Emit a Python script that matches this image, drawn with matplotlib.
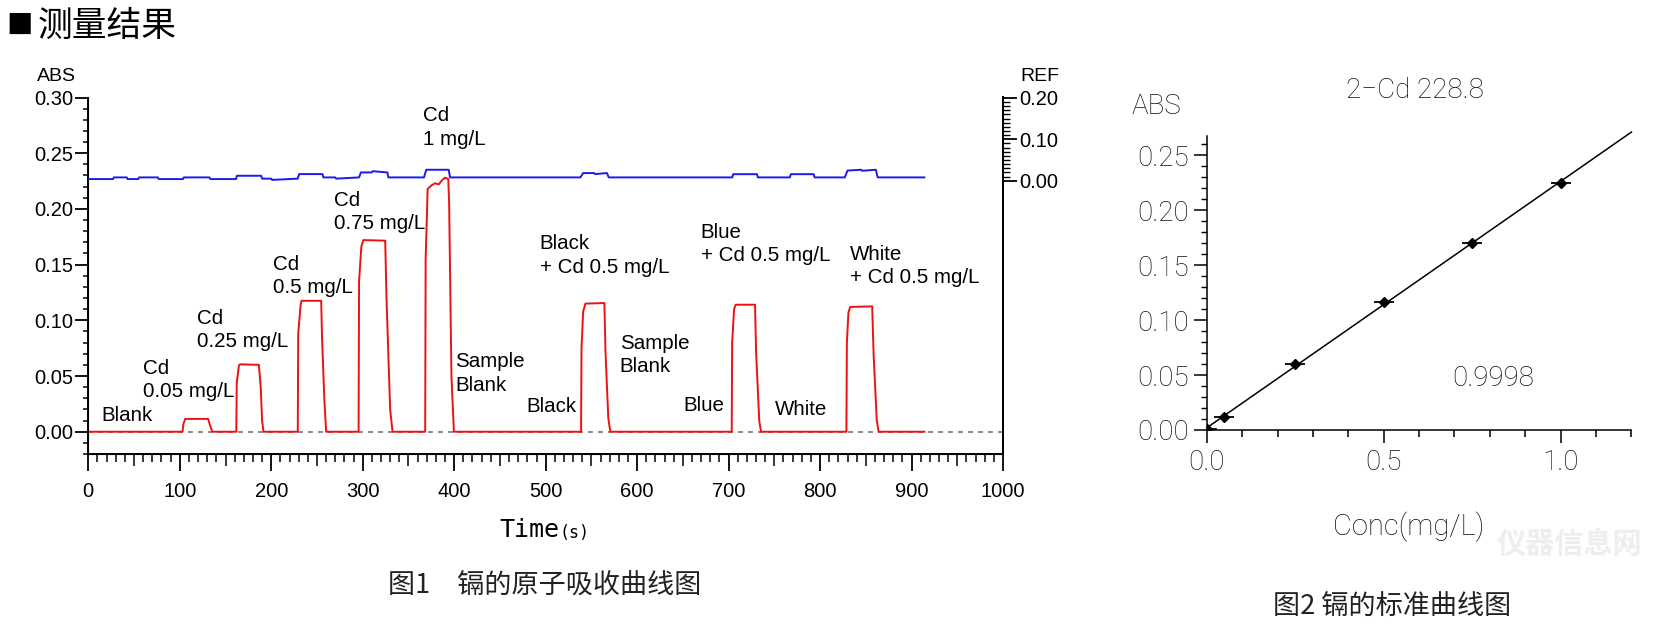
import numpy as np
import matplotlib
matplotlib.use("Agg")
import matplotlib.pyplot as plt

plt.rcParams['font.family'] = ['Liberation Sans', 'Noto Sans CJK SC', 'DejaVu Sans']

# ---- 图1 data: red = ABS (left axis), blue = REF (right axis)
red_t = [0, 103, 104, 106, 131, 133, 135.5,
         161.8, 162.3, 164.7, 166, 186.5, 188.5, 190, 191.5,
         229, 229.5, 232, 233, 254.6, 255.5, 258, 260,
         295.5, 296, 298.5, 300.6, 324.6, 326, 330, 332.6,
         368.3, 368.8, 371, 375, 379, 383, 387, 390, 393.5, 394.5, 397, 399.7,
         538.7, 539.2, 541, 543.5, 564.2, 565.5, 568.5, 570.7,
         703.4, 703.9, 706, 707.8, 728.9, 730, 733.5, 735.4,
         828.8, 829.3, 831, 833, 857, 858.5, 862, 864, 914]
red_abs = [0, 0, 0.007, 0.0115, 0.0115, 0.006, 0,
           0, 0.044, 0.0595, 0.0605, 0.060, 0.040, 0.010, 0,
           0, 0.088, 0.113, 0.1175, 0.1175, 0.085, 0.030, 0,
           0, 0.135, 0.166, 0.172, 0.1715, 0.120, 0.020, 0,
           0, 0.155, 0.218, 0.221, 0.223, 0.222, 0.226, 0.228, 0.227, 0.205, 0.050, 0,
           0, 0.075, 0.108, 0.115, 0.1155, 0.070, 0.012, 0,
           0, 0.080, 0.110, 0.114, 0.114, 0.073, 0.010, 0,
           0, 0.080, 0.107, 0.112, 0.1125, 0.070, 0.010, 0, 0]

blue_t = [0, 27, 28, 42, 43, 54.5, 55.5, 76, 77, 103.5, 104.5, 132.5, 133.5,
          161.5, 162.5, 189, 190, 200, 201, 229, 230.5, 256, 257,
          270, 271, 296, 298, 310, 311, 327, 328,
          367, 368, 369.5, 394, 395.5, 538, 541, 553, 554, 567, 569,
          704, 705, 731, 732, 767, 768, 793, 794, 827, 830, 845, 846, 861, 863, 914]
blue_ref = [0.004, 0.004, 0.008, 0.008, 0.004, 0.004, 0.008, 0.008, 0.004, 0.004, 0.008, 0.008, 0.004,
            0.004, 0.012, 0.012, 0.005, 0.005, 0.002, 0.005, 0.016, 0.016, 0.008,
            0.008, 0.005, 0.008, 0.020, 0.020, 0.023, 0.020, 0.008,
            0.008, 0.016, 0.0265, 0.0265, 0.008, 0.008, 0.0185, 0.0185, 0.016, 0.0185, 0.008,
            0.008, 0.0158, 0.0158, 0.008, 0.008, 0.0158, 0.0158, 0.008, 0.008, 0.0245, 0.0265, 0.024, 0.0265, 0.008, 0.008]

# annotations
labels = ["Blank", "Cd\n0.05 mg/L", "Cd\n0.25 mg/L", "Cd\n0.5 mg/L", "Cd\n0.75 mg/L",
          "Cd\n1 mg/L", "Sample\nBlank", "Black", "Black\n+ Cd 0.5 mg/L", "Sample\nBlank",
          "Blue", "Blue\n+ Cd 0.5 mg/L", "White", "White\n+ Cd 0.5 mg/L"]
label_t = [14.6, 60, 119, 201.5, 268.5, 366, 400.8, 479, 493.6, 581, 651, 669.6, 751, 832.5]
label_abs = [0.0149, 0.0466, 0.0912, 0.1398, 0.1974, 0.2731, 0.0521, 0.0229, 0.1581, 0.0688,
             0.0236, 0.1683, 0.020, 0.1487]

# ---- 图2 data: calibration
cal_conc = [0, 0.05, 0.25, 0.5, 0.75, 1.0]
cal_abs = [0.0005, 0.0115, 0.0605, 0.1165, 0.1705, 0.2245]

cjk = ["Noto Sans CJK SC", "DejaVu Sans"]
fig = plt.figure(figsize=(16.61, 6.25), dpi=100)

# ================= left chart
ax = fig.add_axes([0.05316, 0.2736, 0.5507, 0.5704])
ax.set_xlim(0, 1000)
ax.set_ylim(-0.02, 0.30)
ax.axhline(0, color="#777777", lw=1.2, ls=(0, (3, 3)), zorder=1)
ax.plot(red_t, red_abs, color="#ee1111", lw=1.4, zorder=3)
ax.spines["top"].set_visible(False)
for s in ["left", "bottom", "right"]:
    ax.spines[s].set_linewidth(1.4)

ax.set_xticks(np.arange(0, 1001, 100))
xminor = [v for v in range(0, 1001, 10) if v % 100]
ax.set_xticks(xminor, minor=True)
ax.set_yticks(np.arange(0, 0.301, 0.05))
ax.set_yticklabels(["%.2f" % v for v in np.arange(0, 0.301, 0.05)])
ax.set_yticks([v / 100 for v in range(-2, 31) if v % 5], minor=True)
ax.tick_params(axis="x", which="major", length=12.2, width=1.3, labelsize=14.5, pad=8)
ax.tick_params(axis="x", which="minor", length=5.8, width=1.1)
ax.tick_params(axis="y", which="major", length=9.4, width=1.3, labelsize=14.5, pad=1.5)
ax.tick_params(axis="y", which="minor", length=3.6, width=1.1)
for tick, loc in zip(ax.xaxis.get_minor_ticks(), xminor):
    if loc % 50 == 0:
        tick.tick1line.set_markersize(8.6)

for txt, t, a in zip(labels, label_t, label_abs):
    ax.text(t, a, txt, fontsize=14.8, ha="left", va="center", linespacing=1.3, zorder=4)

ax2 = ax.twinx()
ax2.set_ylim(-0.660, 0.201)
ax2.plot(blue_t, blue_ref, color="#1a1aee", lw=1.4, zorder=3)
ax2.spines["top"].set_visible(False)
ax2.spines["right"].set_linewidth(1.4)
ax2.set_yticks([0, 0.1, 0.2])
ax2.set_yticklabels(["0.00", "0.10", "0.20"])
ax2.set_yticks([v / 100 for v in range(0, 20) if v % 10], minor=True)
ax2.tick_params(axis="y", which="major", length=10, width=1.3, labelsize=14.5, pad=1.5)
ax2.tick_params(axis="y", which="minor", length=5, width=1.0)

fig.text(0.0341, 0.878, "ABS", fontsize=14, ha="center", va="center")
fig.text(0.626, 0.878, "REF", fontsize=14, ha="center", va="center")
fig.text(0.337, 0.152, "Time", fontsize=18, family="DejaVu Sans Mono", ha="right", va="center")
fig.text(0.337, 0.148, "(s)", fontsize=12, family="DejaVu Sans Mono", ha="left", va="center")

# ================= right chart
thin = ["Roboto", "Liberation Sans"]
ink = "#111111"
bx = fig.add_axes([0.7265, 0.312, 0.2557, 0.471])
bx.set_xlim(0, 1.2)
bx.set_ylim(0, 0.268)
coef = np.polyfit(cal_conc, cal_abs, 1)
xx = np.array([0, 1.2])
bx.plot(xx, np.polyval(coef, xx), color="black", lw=1.1, clip_on=False)
bx.plot(cal_conc, cal_abs, ls="none", marker="D", ms=5.5, color="black")
bx.plot(cal_conc, cal_abs, ls="none", marker="_", ms=14, mew=1.3, color="black")
bx.spines["top"].set_visible(False)
bx.spines["right"].set_visible(False)
bx.spines["left"].set_linewidth(1.1)
bx.spines["bottom"].set_linewidth(1.1)
bx.set_xticks([0, 0.5, 1.0])
bx.set_xticklabels(["0.0", "0.5", "1.0"])
bx.set_xticks([0.1, 0.2, 0.3, 0.4, 0.6, 0.7, 0.8, 0.9, 1.1, 1.2], minor=True)
bx.set_yticks([0, 0.05, 0.10, 0.15, 0.20, 0.25])
bx.set_yticklabels(["0.00", "0.05", "0.10", "0.15", "0.20", "0.25"])
bx.set_yticks([v / 100 for v in range(1, 27) if v % 5], minor=True)
bx.tick_params(axis="x", which="major", length=9.6, width=1.1, pad=4)
bx.tick_params(axis="x", which="minor", length=5, width=1.1)
bx.tick_params(axis="y", which="major", length=9.5, width=1.1, pad=3.5)
bx.tick_params(axis="y", which="minor", length=4, width=1.0)
for lab in bx.get_xticklabels() + bx.get_yticklabels():
    lab.set_family(thin)
    lab.set_weight("light")
    lab.set_fontsize(20)
    lab.set_color(ink)
bx.text(0.809, 0.0472, "0.9998", fontsize=20, family=thin, weight="light",
        ha="center", va="center", color=ink)
fig.text(0.852, 0.856, "2\u2212Cd 228.8", fontsize=20, family=thin, weight="light",
         ha="center", va="center", color=ink)
fig.text(0.696, 0.829, "ABS", fontsize=20, family=thin, weight="light",
         ha="center", va="center", color=ink)
fig.text(0.848, 0.157, "Conc(mg/L)", fontsize=21, family=thin, weight="light",
         ha="center", va="center", color=ink)

# ================= captions
fig.text(0.004, 0.957, "■", fontsize=19, ha="left", va="center", family=cjk)
fig.text(0.0225, 0.957, "测量结果", fontsize=25, ha="left", va="center", family=cjk)
fig.text(0.328, 0.0624, "图1　镉的原子吸收曲线图", fontsize=19.5, ha="center", va="center",
         family=cjk, color="#222222")
fig.text(0.838, 0.0288, "图2 镉的标准曲线图", fontsize=19.5, ha="center", va="center",
         family=cjk, color="#222222")
fig.text(0.945, 0.128, "仪器信息网", fontsize=21, ha="center", va="center", weight="bold",
         family=cjk, color="#eeeeee", zorder=0)

fig.savefig("out.png", dpi=100)
